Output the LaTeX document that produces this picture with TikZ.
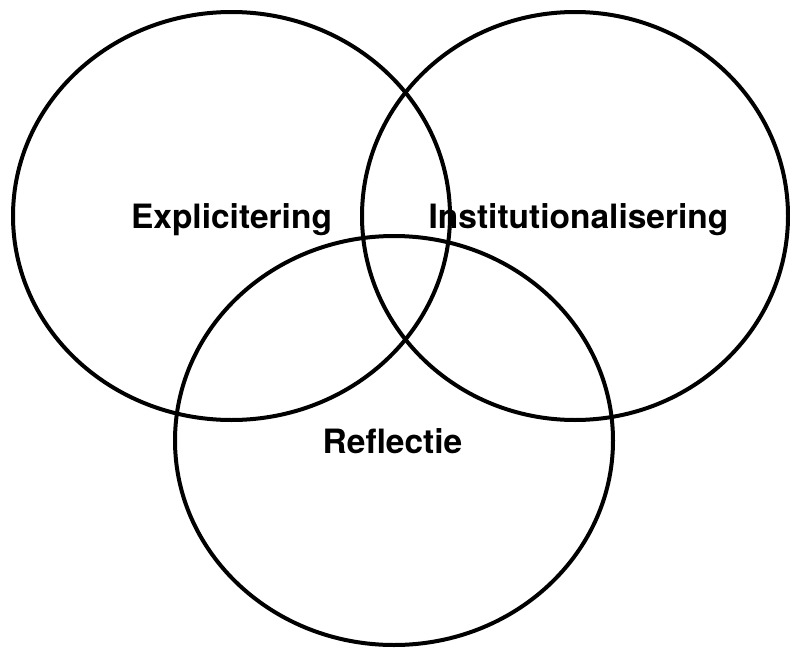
\documentclass[tikz,border=0pt]{standalone}
\usepackage{fontspec}
\setmainfont{TeX Gyre Heros}
\begin{document}
\begin{tikzpicture}[x=1pt,y=-1pt,
  ring/.style={draw=black,line width=4pt},
  lbl/.style={font=\bfseries\fontsize{33.5}{38}\selectfont,anchor=base,inner sep=0pt}]
\useasboundingbox (0,0) rectangle (790,648);
\draw[ring] (231.5,216) ellipse [x radius=218.5, y radius=204];
\draw[ring] (575,216) ellipse [x radius=213, y radius=204];
\draw[ring] (394,440.5) ellipse [x radius=219, y radius=204.5];
\node[lbl] (expl) at (231.5,228) {Explicitering};
\node[lbl] (inst) at (578.5,228) {Institutionalisering};
\node[lbl] (refl) at (392.5,453) {Reflectie};
\end{tikzpicture}
\end{document}
